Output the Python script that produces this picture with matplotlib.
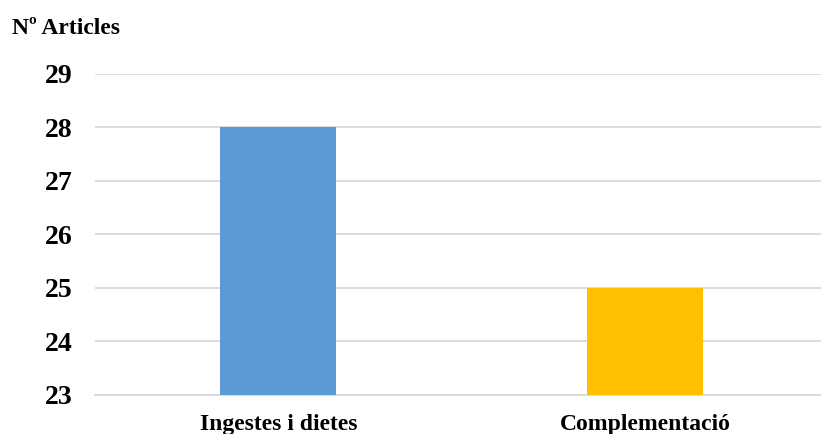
import matplotlib
matplotlib.use('Agg')
import matplotlib.pyplot as plt
import numpy as np

# article counts per category
categories = ['Ingestes i dietes', 'Complementació']
articles = [28, 25]
colors = ['#5B9BD5', '#FFC000']
yticks = [23, 24, 25, 26, 27, 28, 29]

plt.rcParams['font.family'] = ['Liberation Serif', 'DejaVu Serif']
plt.rcParams['font.weight'] = 'bold'

fig = plt.figure(figsize=(8.21, 4.34), dpi=100)
ax = fig.add_axes([0.1157, 0.091, 0.894, 0.7385])

x = np.arange(len(categories))
ax.bar(x, np.array(articles) - yticks[0], bottom=yticks[0], width=0.316,
       color=colors, zorder=3)

ax.set_xlim(-0.5, 1.5)
ax.set_ylim(yticks[0], yticks[-1])
ax.set_yticks(yticks)
ax.set_yticklabels([str(t) for t in yticks], fontsize=20, fontweight='bold')
ax.set_xticks(x)
ax.set_xticklabels(categories, fontsize=17, fontweight='bold')
ax.tick_params(axis='y', length=0, pad=16)
ax.tick_params(axis='x', length=0, pad=14)

ax.grid(axis='y', color='#D9D9D9', linewidth=1.3, zorder=0)
for side in ['left', 'right', 'top']:
    ax.spines[side].set_visible(False)
ax.spines['bottom'].set_color('#D9D9D9')
ax.spines['bottom'].set_linewidth(1.3)

fig.text(0.0146, 1 - 34 / 434, 'Nº Articles', fontsize=17, fontweight='bold')

fig.savefig('out.png', dpi=100)
